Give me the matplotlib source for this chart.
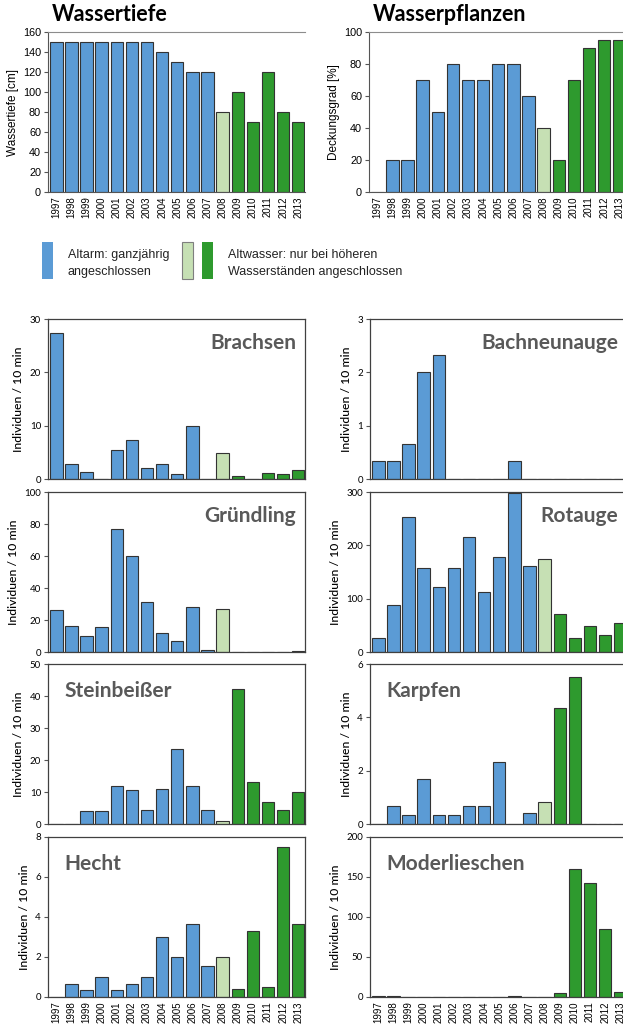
import matplotlib.pyplot as plt
from matplotlib.patches import Rectangle

W, H = 623, 1027

years = [str(y) for y in range(1997, 2014)]

# 1997-2007 Altarm (blue), 2008 transition (light green), 2009-2013 Altwasser (green)
BLUE = '#5B9BD5'
LIGHT = '#C6E0B4'
GREEN = '#2E9A2E'
bar_colors = [BLUE] * 11 + [LIGHT] + [GREEN] * 5

wassertiefe = [150, 150, 150, 150, 150, 150, 150, 140, 130, 120, 120, 80, 100, 70, 120, 80, 70]
wasserpflanzen = [0, 20, 20, 70, 50, 80, 70, 70, 80, 80, 60, 40, 20, 70, 90, 95, 95]

brachsen = [27.3, 2.75, 1.4, 0, 5.4, 7.3, 2.1, 2.75, 1.0, 10.0, 0, 4.9, 0.5, 0, 1.1, 0.9, 1.6]
bachneunauge = [0.33, 0.33, 0.66, 2.0, 2.33, 0, 0, 0, 0, 0.33, 0, 0, 0, 0, 0, 0, 0]
gruendling = [26, 16.2, 10.2, 15.6, 77, 60, 31.5, 12.1, 7.1, 28.1, 1.2, 26.9, 0, 0, 0, 0, 0.6]
rotauge = [26, 88, 254, 158, 122, 157, 215, 113, 179, 298, 161, 174, 71, 27, 48, 32, 55]
steinbeisser = [0, 0, 4.1, 4.1, 11.8, 10.5, 4.4, 10.9, 23.3, 11.8, 4.5, 0.9, 42.1, 13.1, 6.8, 4.3, 9.9]
karpfen = [0, 0.66, 0.33, 1.67, 0.33, 0.33, 0.66, 0.66, 2.33, 0, 0.41, 0.81, 4.35, 5.5, 0, 0, 0]
hecht = [0, 0.67, 0.33, 1.0, 0.33, 0.67, 1.0, 3.0, 2.0, 3.67, 1.57, 2.0, 0.42, 3.31, 0.52, 7.5, 3.67]
moderlieschen = [1.5, 0.8, 0, 0, 0, 0, 0, 0.5, 0.5, 1.5, 0.5, 0.5, 5.4, 160, 142, 85, 6.3]

CAL = ['Lato', 'DejaVu Sans']
ARIAL = ['Liberation Sans', 'DejaVu Sans']

fig = plt.figure(figsize=(W / 100, H / 100), dpi=100)


def add_ax(x0, y0, x1, y1):
    return fig.add_axes([x0 / W, 1 - y1 / H, (x1 - x0) / W, (y1 - y0) / H])


def draw_bars(ax, values, ymax, step):
    x = range(len(values))
    ax.bar(x, values, width=0.82, color=bar_colors, edgecolor='#333333', linewidth=0.8, zorder=2)
    ax.set_xlim(-0.55, len(values) - 0.55)
    ax.set_ylim(0, ymax)
    ax.set_yticks(range(0, ymax + 1, step))
    ax.set_xticks(list(x))
    ax.tick_params(axis='x', length=0, pad=3)
    ax.tick_params(axis='y', length=3, width=0.8, color='#555555', pad=2)


# top row: water depth and plant cover
top_panels = [
    (48, 'Wassertiefe', wassertiefe, 160, 20, 'Wassertiefe [cm]'),
    (369, 'Wasserpflanzen', wasserpflanzen, 100, 20, 'Deckungsgrad [%]'),
]
for x0, title, vals, ymax, step, ylab in top_panels:
    ax = add_ax(x0, 32, x0 + 257, 192)
    draw_bars(ax, vals, ymax, step)
    ax.spines['right'].set_visible(False)
    ax.spines['top'].set_color('#8c8c8c')
    for s in ('left', 'bottom'):
        ax.spines[s].set_color('#555555')
        ax.spines[s].set_linewidth(0.8)
    ax.set_xticklabels(years, rotation=90, fontsize=7, family=ARIAL)
    for lbl in ax.get_yticklabels():
        lbl.set_fontsize(7.8)
        lbl.set_family(ARIAL)
    ax.set_ylabel(ylab, fontsize=8.5, family=ARIAL, labelpad=3)
    ax.set_title(title, loc='left', fontsize=15.5, fontweight='bold', family=CAL, pad=8, x=0.015)

# legend between the rows
fig.patches.append(Rectangle((42 / W, 1 - 279 / H), 11 / W, 37 / H, transform=fig.transFigure,
                             facecolor=BLUE, edgecolor='none'))
fig.patches.append(Rectangle((182 / W, 1 - 279 / H), 11 / W, 37 / H, transform=fig.transFigure,
                             facecolor=LIGHT, edgecolor='#7f7f7f', linewidth=0.8))
fig.patches.append(Rectangle((202 / W, 1 - 279 / H), 11 / W, 37 / H, transform=fig.transFigure,
                             facecolor=GREEN, edgecolor='none'))
fig.text(68 / W, 1 - 263.5 / H, 'Altarm: ganzjährig\nangeschlossen', fontsize=9, family=ARIAL,
         va='center', ha='left', linespacing=1.55, color='#222222')
fig.text(228 / W, 1 - 263.5 / H, 'Altwasser: nur bei höheren\nWasserständen angeschlossen', fontsize=9,
         family=ARIAL, va='center', ha='left', linespacing=1.55, color='#222222')

# fish panels: (column, row, name, values, ymax, step, label position)
fish = [
    (0, 0, 'Brachsen', brachsen, 30, 10, 'right'),
    (1, 0, 'Bachneunauge', bachneunauge, 3, 1, 'right'),
    (0, 1, 'Gründling', gruendling, 100, 20, 'right'),
    (1, 1, 'Rotauge', rotauge, 300, 100, 'right'),
    (0, 2, 'Steinbeißer', steinbeisser, 50, 10, 'left'),
    (1, 2, 'Karpfen', karpfen, 6, 2, 'left'),
    (0, 3, 'Hecht', hecht, 8, 2, 'left'),
    (1, 3, 'Moderlieschen', moderlieschen, 200, 50, 'left'),
]
row_tops = [319, 492, 664, 837]
col_left = [48, 370]

for col, row, name, vals, ymax, step, pos in fish:
    x0 = col_left[col]
    y0 = row_tops[row]
    ax = add_ax(x0, y0, x0 + 257, y0 + 160)
    draw_bars(ax, vals, ymax, step)
    for s in ax.spines.values():
        s.set_color('#404040')
        s.set_linewidth(0.9)
    for lbl in ax.get_yticklabels():
        lbl.set_fontsize(7)
        lbl.set_family(CAL)
    if row == 3:
        ax.set_xticklabels(years, rotation=90, fontsize=7, family=ARIAL)
    else:
        ax.set_xticklabels([])
    ax.set_ylabel('Individuen / 10 min', fontsize=8.7, family=CAL, fontweight='medium', labelpad=4)
    if pos == 'right':
        ax.text(0.965, 0.85, name, transform=ax.transAxes, ha='right', va='center',
                fontsize=15, fontweight='bold', family=CAL, color='#595959')
    else:
        ax.text(0.065, 0.83, name, transform=ax.transAxes, ha='left', va='center',
                fontsize=15, fontweight='bold', family=CAL, color='#595959')

fig.savefig('out.png', dpi=100)
